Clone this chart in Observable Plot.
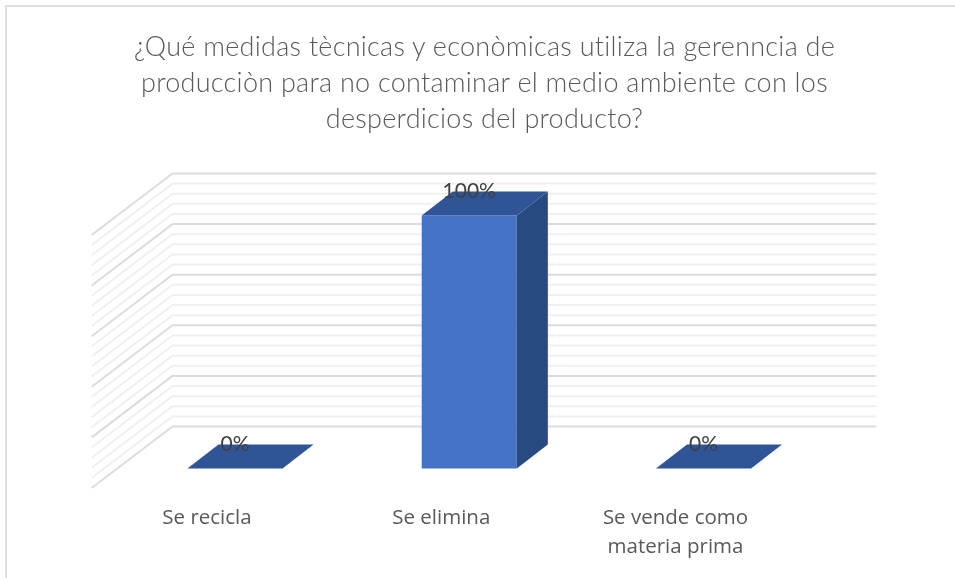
<!DOCTYPE html>
<html><head><meta charset="utf-8">
<script src="https://cdn.jsdelivr.net/npm/d3@7"></script>
<script src="https://cdn.jsdelivr.net/npm/@observablehq/plot@0.6"></script>
<style>
html,body{margin:0;padding:0;background:#fff;overflow:hidden}
#chart{position:relative;width:955px;height:578px;box-sizing:border-box}
#frame{position:absolute;left:5px;top:5px;right:0;bottom:0;box-sizing:border-box;border-top:2px solid #dedede;border-left:2px solid #dedede;pointer-events:none}
#title{height:165px;box-sizing:border-box;padding:28px 0 0 14px;text-align:center;font:300 27px/36px Lato,sans-serif;color:#595959;letter-spacing:.27px;filter:blur(.3px)}
svg{display:block;background:transparent!important;filter:blur(.4px)}
</style></head><body>
<div id="chart"><div id="frame"></div><div id="title"></div></div>
<script>
const titleLines = ["¿Qué medidas tècnicas y econòmicas utiliza la gerenncia de","producciòn para no contaminar el medio ambiente con los","desperdicios del producto?"];
const categories = ["Se recicla","Se elimina","Se vende como\nmateria prima"];
const values = [0,100,0];
const gridValues = d3.range(0,101,4);
const majorEvery = 20;

// oblique projection of the 3D chart, in data units
const depthX = 0.1325, depthY = 9.5, halfBar = 0.203;
const wall = {frontX:-0.609, frontY:-7.5, backX:-0.267, backY:16.6, rightX:2.735};

document.getElementById("title").innerHTML = titleLines.join("<br>");

const grid = gridValues.flatMap(v => [
  {x:wall.frontX, y:v+wall.frontY, v},
  {x:wall.backX, y:v+wall.backY, v},
  {x:wall.rightX, y:v+wall.backY, v}
]);
const faces = values.flatMap((v,i) => {
  const l=i-halfBar, r=i+halfBar, dx=depthX, dy=depthY;
  const poly=(name,fill,pts)=>pts.map(([x,y])=>({x,y,key:i+name,fill}));
  return [
    ...(v>0?poly("front","#4472C4",[[l,0],[r,0],[r,v],[l,v]]):[]),
    ...(v>0?poly("side","#274A80",[[r,0],[r+dx,dy],[r+dx,v+dy],[r,v]]):[]),
    ...poly("top","#2F5597",[[l,v],[r,v],[r+dx,v+dy],[l+dx,v+dy]])
  ];
});
const labels = values.map((v,i)=>({x:i,y:v+depthY,t:v+"%"}));

const plot = Plot.plot({
  width:955,height:413,
  marginLeft:234.5,marginRight:252,marginTop:50,marginBottom:110,
  style:{overflow:"visible",fontFamily:"Lato,sans-serif"},
  x:{domain:[0,2],axis:null},
  y:{domain:[0,100],axis:null},
  marks:[
    Plot.line(grid.filter(d=>d.v%majorEvery!==0),{x:"x",y:"y",z:"v",stroke:"#f0f0f0",strokeWidth:2}),
    Plot.line(grid.filter(d=>d.v%majorEvery===0),{x:"x",y:"y",z:"v",stroke:"#dcdcdc",strokeWidth:2}),
    Plot.line(faces,{x:"x",y:"y",z:"key",fill:"fill",stroke:null,curve:"linear-closed"}),
    Plot.text(labels,{x:"x",y:"y",text:"t",fontSize:21,fill:"#404040"}),
    Plot.axisX({anchor:"bottom",ticks:[0,1,2],tickFormat:i=>categories[i],tickSize:0,tickPadding:35,dx:-28,fontSize:20.5,fontWeight:400,fontFamily:"Open Sans",lineHeight:1.4,fill:"#595959",label:null})
  ]
});
document.getElementById("chart").appendChild(plot);
</script></body></html>
